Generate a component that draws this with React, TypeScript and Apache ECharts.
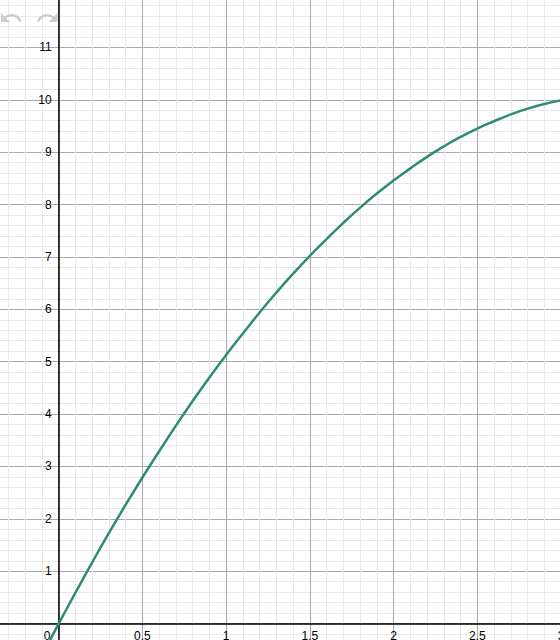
import React, { useEffect, useRef } from "react";
import * as echarts from "echarts";

// Curve samples (x, y)
const xValues = [-0.1, 0, 0.1, 0.2, 0.3, 0.4, 0.5, 0.6, 0.7, 0.8, 0.9, 1.0, 1.1, 1.2, 1.3, 1.4, 1.5, 1.6, 1.7, 1.8, 1.9, 2.0, 2.1, 2.2, 2.3, 2.4, 2.5, 2.6, 2.7, 2.8, 2.9, 3.0, 3.1];
const yValues = [-0.61, 0, 0.59, 1.17, 1.73, 2.27, 2.79, 3.29, 3.78, 4.25, 4.7, 5.13, 5.54, 5.94, 6.32, 6.68, 7.02, 7.34, 7.65, 7.94, 8.21, 8.46, 8.69, 8.91, 9.11, 9.29, 9.45, 9.59, 9.72, 9.83, 9.92, 9.99, 10.04];

// Axis ranges / tick spacing
const xRange = [-0.5, 3];
const yRange = [-1, 12];
const xTickStep = 0.5;
const yTickStep = 1;
const minorDivisions = 5;

const UNDO =
  "M12.5 8c-2.65 0-5.05.99-6.9 2.6L2 7v9h9l-3.62-3.62c1.39-1.16 3.16-1.88 5.12-1.88 3.54 0 6.55 2.31 7.6 5.5l2.37-.78C21.08 11.03 17.15 8 12.5 8z";
const REDO =
  "M18.4 10.6C16.55 8.99 14.15 8 11.5 8c-4.65 0-8.58 3.03-9.96 7.22L3.9 16c1.05-3.19 4.05-5.5 7.6-5.5 1.95 0 3.73.72 5.12 1.88L13 16h9V7l-3.6 3.6z";

let registered = false;
function registerIcons() {
  if (registered) return;
  registered = true;
  echarts.graphic.registerShape("undoIcon", echarts.graphic.extendPath(UNDO, {}));
  echarts.graphic.registerShape("redoIcon", echarts.graphic.extendPath(REDO, {}));
}

const FONT = "'Liberation Sans', Arial, Helvetica, sans-serif";
const MAJOR = "#a8a8ad";
const MINOR = "#e8e8ea";

// The chart canvas is larger than the window; it is shifted so that the
// visible window shows x in about [-0.35, 3] and y in about [-0.3, 11.9].
const OFFSET_LEFT = -25;
const OFFSET_TOP = -5;
const CHART_W = 586;
const CHART_H = 681;

// distance from grid edges to the zero lines (axes drawn through the origin)
const Y_AXIS_SHIFT = (CHART_W * (0 - xRange[0])) / (xRange[1] - xRange[0]);
const X_AXIS_SHIFT = (CHART_H * (0 - yRange[0])) / (yRange[1] - yRange[0]);

function fmtNum(v: number) {
  return Math.abs(v - Math.round(v)) < 1e-9 ? String(Math.round(v)) : String(Math.round(v * 10) / 10);
}

export default function App() {
  const ref = useRef<HTMLDivElement>(null);
  useEffect(() => {
    if (!ref.current) return;
    registerIcons();
    const chart = echarts.init(ref.current, null, { renderer: "svg" });
    const data = xValues.map((x, i) => [x, yValues[i]]);
    chart.setOption({
      animation: false,
      backgroundColor: "#ffffff",
      grid: { left: 0, right: 0, top: 0, bottom: 0, containLabel: false, outerBoundsMode: "none" },
      xAxis: {
        type: "value",
        position: "bottom",
        offset: -X_AXIS_SHIFT,
        min: xRange[0],
        max: xRange[1],
        interval: xTickStep,
        axisLine: { show: true, onZero: false, lineStyle: { color: "#000", width: 1.5 } },
        axisTick: { show: false },
        minorTick: { show: false, splitNumber: minorDivisions },
        splitLine: { show: true, lineStyle: { color: MAJOR, width: 1 } },
        minorSplitLine: { show: true, lineStyle: { color: MINOR, width: 1 } },
        axisLabel: {
          show: true,
          margin: 6,
          fontFamily: FONT,
          fontSize: 12,
          color: "#000",
          showMinLabel: false,
          showMaxLabel: true,
          hideOverlap: false,
          formatter: (v: number) => {
            if (Math.abs(v) < 1e-9) return "{z|0}";
            if (v < 0) return "";
            return fmtNum(v);
          },
          rich: { z: { fontFamily: FONT, fontSize: 12, color: "#000", padding: [0, 23, 0, 0] } },
        },
      },
      yAxis: {
        type: "value",
        position: "left",
        offset: -Y_AXIS_SHIFT,
        min: yRange[0],
        max: yRange[1],
        interval: yTickStep,
        axisLine: { show: true, onZero: false, lineStyle: { color: "#000", width: 1.5 } },
        axisTick: { show: false },
        minorTick: { show: false, splitNumber: minorDivisions },
        splitLine: { show: true, lineStyle: { color: MAJOR, width: 1 } },
        minorSplitLine: { show: true, lineStyle: { color: MINOR, width: 1 } },
        axisLabel: {
          show: true,
          margin: 7,
          fontFamily: FONT,
          fontSize: 12,
          color: "#000",
          showMinLabel: false,
          showMaxLabel: false,
          hideOverlap: false,
          formatter: (v: number) => (v <= 0 || v >= yRange[1] ? "" : fmtNum(v)),
        },
      },
      series: [
        {
          type: "line",
          data,
          smooth: true,
          showSymbol: false,
          clip: true,
          lineStyle: { color: "#2f8a78", width: 2.5 },
          z: 5,
        },
      ],
      graphic: [
        { type: "undoIcon", x: -1 - OFFSET_LEFT, y: 6 - OFFSET_TOP, style: { fill: "#cdcdcd" }, z: 10 },
        { type: "redoIcon", x: 35.5 - OFFSET_LEFT, y: 6 - OFFSET_TOP, style: { fill: "#cdcdcd" }, z: 10 },
      ],
    });
    return () => chart.dispose();
  }, []);
  return (
    <div style={{ position: "fixed", left: 0, top: 0, width: 560, height: 640, overflow: "hidden", background: "#fff" }}>
      <div
        ref={ref}
        style={{ position: "absolute", left: OFFSET_LEFT, top: OFFSET_TOP, width: CHART_W, height: CHART_H }}
      />
    </div>
  );
}
